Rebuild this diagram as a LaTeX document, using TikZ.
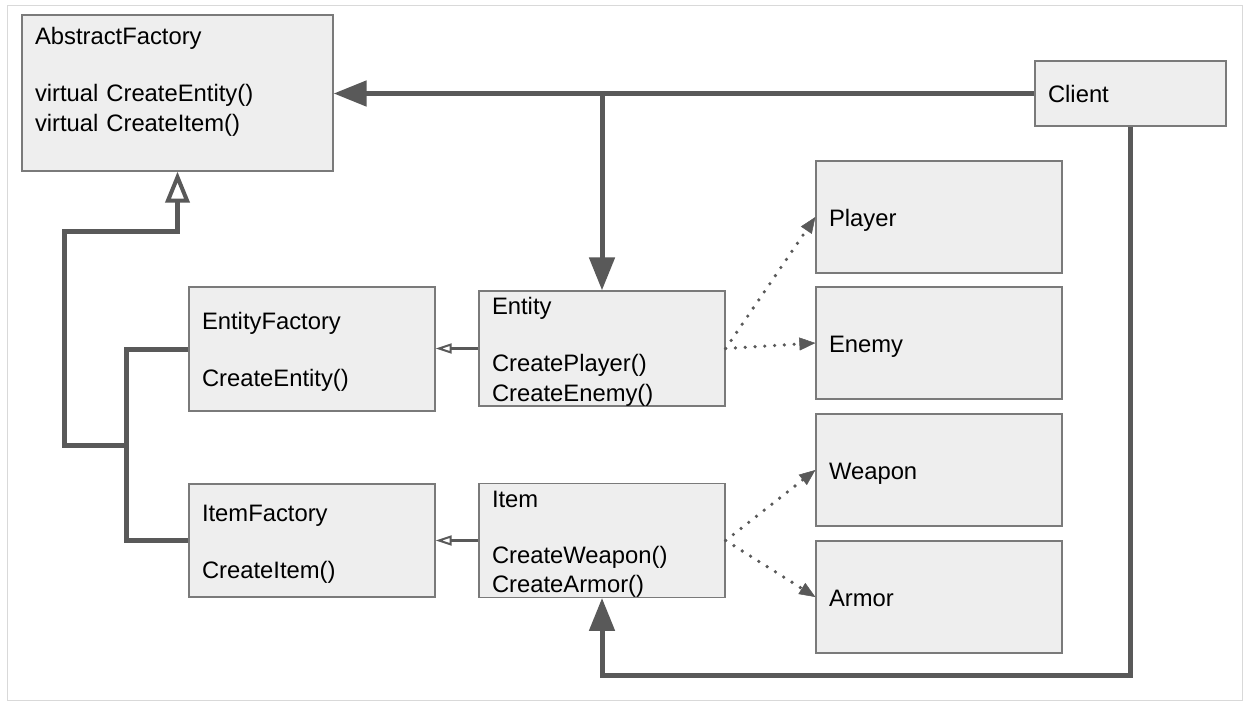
\documentclass[tikz,border=0pt]{standalone}
\usepackage{fontspec}
\setmainfont{Liberation Sans}
\usetikzlibrary{arrows.meta}
\definecolor{boxfill}{HTML}{EEEEEE}
\definecolor{boxline}{HTML}{7A7A7A}
\definecolor{conn}{HTML}{595959}
\definecolor{framec}{HTML}{D9D9D9}
\newcommand\tstrut{\rule[-4.6pt]{0pt}{28pt}}
\begin{document}
\begin{tikzpicture}[x=1pt,y=-1pt,
  box/.style={draw=boxline, line width=1.3pt, fill=boxfill, inner xsep=13pt, inner ysep=0pt,
    align=left, font=\fontsize{23.8pt}{28pt}\selectfont, anchor=center},
  wide/.style={minimum width=311pt, text width=285pt},
  mid/.style={minimum width=246pt, text width=220pt},
  narrow/.style={minimum width=191pt, text width=165pt},
  thickc/.style={draw=conn, line width=5pt},
  thinc/.style={draw=conn, line width=2.5pt},
  dotc/.style={draw=conn, line width=3.6pt, line cap=round, dash pattern=on 0pt off 9.8pt},
  bigtip/.style={-{Triangle[length=33pt,width=25pt]}},
  opentip/.style={-{Triangle[open,length=31pt,width=24pt,line width=4pt]}},
  smallopen/.style={-{Triangle[open,length=16pt,width=10pt,line width=2pt]}},
  dottip/.style={-{Triangle[length=16pt,width=13pt,line width=0.5pt]}}
]
\fill[white] (0,0) rectangle (1249,704);
\useasboundingbox (0,0) rectangle (1249,704);
\draw[framec, line width=1pt] (7,5) rectangle (1242,700);

\node[box, wide, minimum height=156pt] (af) at (177.5,93)
  {\tstrut AbstractFactory\\\tstrut\\\tstrut virtual CreateEntity()\\\tstrut virtual CreateItem()\\\tstrut};
\node[box, narrow, minimum height=65pt] (client) at (1130.5,93.5) {\tstrut Client};
\node[box, mid, minimum height=112pt] (player) at (939,217) {\tstrut Player};
\node[box, mid, minimum height=112pt] (enemy) at (939,343) {\tstrut Enemy};
\node[box, mid, minimum height=112pt] (weapon) at (939,470) {\tstrut Weapon};
\node[box, mid, minimum height=112pt] (armor) at (939,597) {\tstrut Armor};
\node[box, mid, minimum height=124pt] (ef) at (312,349)
  {\tstrut EntityFactory\\\tstrut\\\tstrut CreateEntity()};
\node[box, mid, minimum height=113pt] (entity) at (602,348.5)
  {\tstrut Entity\\\tstrut\\\tstrut CreatePlayer()\\\tstrut CreateEnemy()};
\node[box, mid, minimum height=113pt] (if) at (312,540.5)
  {\tstrut ItemFactory\\\tstrut\\\tstrut CreateItem()};
\node[box, mid, minimum height=113pt] (item) at (602,540.5)
  {\tstrut Item\\\tstrut\\\tstrut CreateWeapon()\\\tstrut CreateArmor()};

\coordinate (low) at (0,675);
\coordinate (busx) at (126,445);
\coordinate (up) at (178,231);

% client associations
\draw[thickc, bigtip] (client.west) -- (af.east |- client.west);
\draw[thickc, bigtip] (entity.north |- client.west) -- (entity.north);
\draw[thickc, bigtip] (client.south) -- (client.south |- low) -| (item.south);

% factory inheritance
\draw[thickc] (ef.west) -| (busx) |- (if.west);
\draw[thickc, opentip] (busx) -- ++(-62,0) |- (af.south |- up) -- (af.south);

% product to factory
\draw[thinc, smallopen] (entity.west) -- (ef.east |- entity.west);
\draw[thinc, smallopen] (item.west) -- (if.east);

% dotted creations
\draw[dotc, dottip] (entity.east) -- (player.west);
\draw[dotc, dottip] (entity.east) -- (enemy.west);
\draw[dotc, dottip] (item.east) -- (weapon.west);
\draw[dotc, dottip] (item.east) -- (armor.west);
\end{tikzpicture}
\end{document}
